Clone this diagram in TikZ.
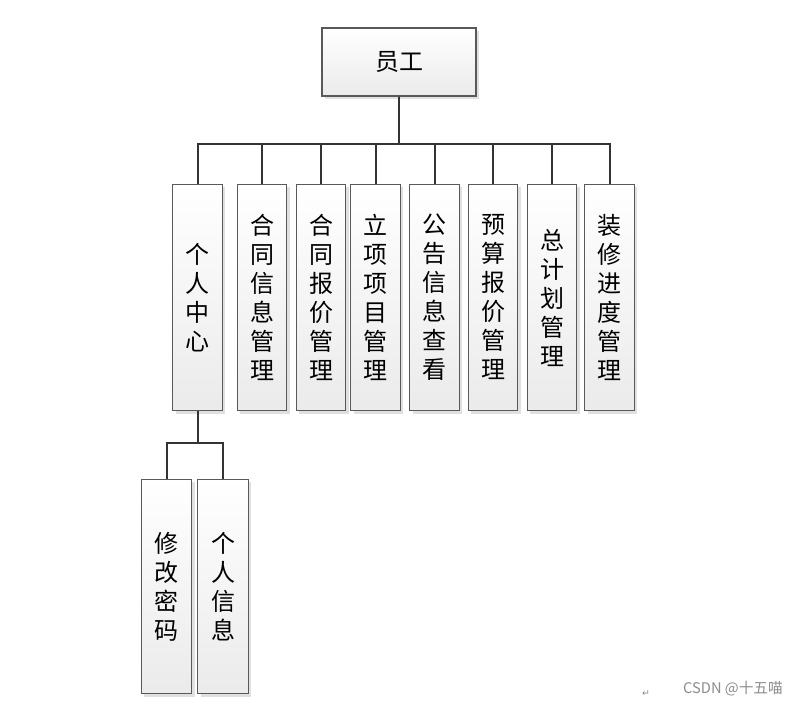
\documentclass[tikz,border=0pt]{standalone}
\usepackage{fontspec}
\newfontfamily\cjk{Noto Sans CJK SC}
\newfontfamily\symfont{DejaVu Sans}
\usepackage{tikz}
\usetikzlibrary{shadows}
\usepackage{xcolor}

\begin{document}
\begin{tikzpicture}[
    x=0.75pt, y=-0.75pt,
    box/.style={draw=black!65, line width=0.8pt, top color=white, bottom color=black!8,
        drop shadow={shadow xshift=2.2pt, shadow yshift=-2.2pt, fill=black!12, opacity=1},
        font=\cjk\fontsize{18}{21.75}\selectfont, align=center, inner sep=0pt},
    colbox/.style={box, minimum width=37pt, minimum height=170pt},
    leafbox/.style={box, minimum width=38pt, minimum height=161pt},
    conn/.style={draw=black!80, line width=1.5pt}
]
\useasboundingbox[fill=white] (0,0) rectangle (799,705);

\node[box, minimum width=115.5pt, minimum height=51pt] (staff) at (399, 62) {员工};

% second level
\node[colbox] (center) at (197.5, 297.5) {个\\人\\中\\心};
\node[colbox] (contract) at (262, 297.5) {合\\同\\信\\息\\管\\理};
\node[colbox] (quote) at (321, 297.5) {合\\同\\报\\价\\管\\理};
\node[colbox] (project) at (375.5, 297.5) {立\\项\\项\\目\\管\\理};
\node[colbox] (notice) at (434.5, 297.5) {公\\告\\信\\息\\查\\看};
\node[colbox] (budget) at (493, 297.5) {预\\算\\报\\价\\管\\理};
\node[colbox] (plan) at (552, 297.5) {总\\计\\划\\管\\理};
\node[colbox] (progress) at (609.5, 297.5) {装\\修\\进\\度\\管\\理};

% third level
\node[leafbox] (passwd) at (166.5, 586.5) {修\\改\\密\\码};
\node[leafbox] (info) at (223, 586.5) {个\\人\\信\\息};

\draw[conn] (staff.south) -- ++(0,47) -| (center.north);
\draw[conn] (staff.south) -- ++(0,47) -| (contract.north);
\draw[conn] (staff.south) -- ++(0,47) -| (quote.north);
\draw[conn] (staff.south) -- ++(0,47) -| (project.north);
\draw[conn] (staff.south) -- ++(0,47) -| (notice.north);
\draw[conn] (staff.south) -- ++(0,47) -| (budget.north);
\draw[conn] (staff.south) -- ++(0,47) -| (plan.north);
\draw[conn] (staff.south) -- ++(0,47) -| (progress.north);

\draw[conn] (center.south) -- ++(0,32) -| (passwd.north);
\draw[conn] (center.south) -- ++(0,32) -| (info.north);

\node[font=\symfont\fontsize{7}{8}\selectfont, text=black!45] (mark) at (646, 694) {↵};
\node[font=\cjk\fontsize{11}{13}\selectfont, text=black!45] (credit) at (733, 689) {CSDN @十五喵};
\end{tikzpicture}
\end{document}
